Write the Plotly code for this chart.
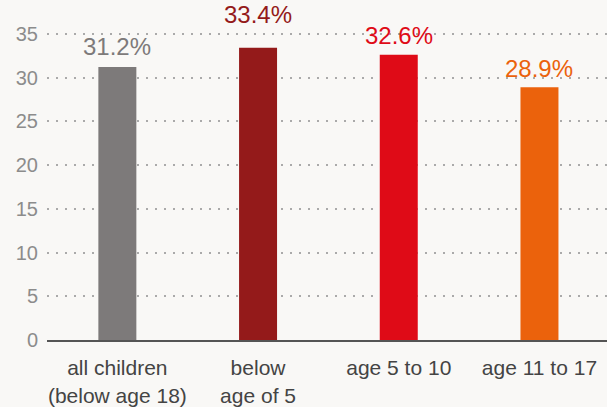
import plotly.graph_objects as go

categories = ["all children<br>(below age 18)", "below<br>age of 5", "age 5 to 10", "age 11 to 17"]
values = [31.2, 33.4, 32.6, 28.9]
colors = ["#7d7a7a", "#941a1a", "#df0b17", "#eb620c"]
label_shift = [5, 18, 4, 3]
y_ticks = [0, 5, 10, 15, 20, 25, 30, 35]

FONT = "Liberation Sans, Arial, sans-serif"

fig = go.Figure(go.Bar(
    x=categories,
    y=values,
    marker=dict(color=colors, line=dict(width=0)),
    width=0.27,
    hoverinfo="skip",
))

for cat, v, c, s in zip(categories, values, colors, label_shift):
    fig.add_annotation(
        x=cat, y=v, text=f"{v:.1f}%",
        showarrow=False, yanchor="bottom", yshift=s,
        font=dict(color=c, size=24, family=FONT),
    )

fig.update_layout(
    width=607, height=407,
    margin=dict(l=47, r=0, t=32, b=67, autoexpand=False),
    paper_bgcolor="#f9f8f6",
    plot_bgcolor="#f9f8f6",
    showlegend=False,
    font=dict(family=FONT),
)
fig.update_xaxes(
    range=[-0.5, 3.48],
    automargin=False,
    showgrid=False,
    showline=True, linecolor="#555555", linewidth=2,
    ticks="", ticklabelstandoff=8,
    tickfont=dict(size=21, color="#444444"),
    fixedrange=True,
)
fig.update_yaxes(
    range=[0, 35.2],
    automargin=False,
    tickvals=y_ticks,
    showgrid=True, gridcolor="#aaaaaa", griddash="2px,7px", gridwidth=2,
    zeroline=False, showline=False,
    ticks="", ticklabelstandoff=8,
    tickfont=dict(size=20, color="#8c8c8c"),
    fixedrange=True,
)

fig.write_html(
    "out.html",
    config={"displayModeBar": False, "staticPlot": True},
    post_script="document.body.style.margin='0';document.body.style.background='#f9f8f6';",
)
